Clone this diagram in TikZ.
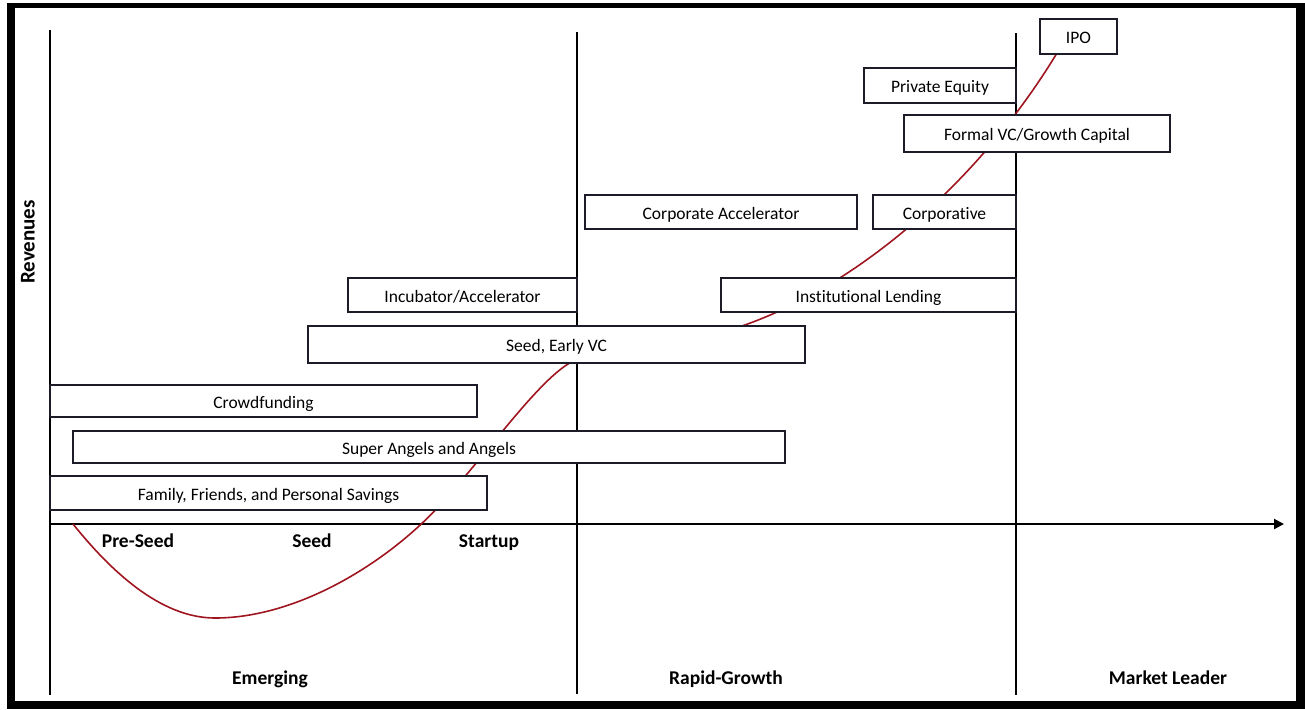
\documentclass[tikz,border=0pt]{standalone}
\usepackage{fontspec}
\setmainfont{Carlito}[Ligatures=NoCommon]
\usepackage{xcolor}
\usepackage{tikz}
\usetikzlibrary{calc, fit, arrows.meta}
\definecolor{curvered}{RGB}{160,22,32}
\definecolor{boxline}{RGB}{28,28,40}
\tikzstyle{fundbox}  = [draw=boxline,line width=0.7pt,fill=white,inner sep=0pt]
\tikzstyle{boxtext}  = [inner sep=0pt,text height=7pt,text depth=0pt,font=\fontsize{8.75}{10}\selectfont]
\tikzstyle{stage}    = [anchor=base,font=\bfseries\fontsize{9.75}{11}\selectfont]
\tikzstyle{divider}  = [line width=1pt]
\tikzstyle{axisline} = [line width=1pt,-{Triangle[length=5pt,width=5pt]}]
\tikzstyle{growth}   = [curvered,line width=0.8pt]

\begin{document}
\begin{tikzpicture}[x=0.5pt,y=-0.5pt]
  \useasboundingbox (0,0) rectangle (1305,709);
  % frame
  \fill[black] (7,3) rectangle (1305,709);
  \fill[white] (15,8) rectangle (1296,701);

  % axes and stage dividers
  \coordinate (origin) at (50,524);
  \coordinate (xend)   at (1284,524);
  \draw[divider] (50,30) -- (50,695);
  \draw[divider] (577,32) -- (577,694);
  \draw[divider] (1016,33) -- (1016,695);
  \draw[axisline] (origin) -- (xend);

  % growth curve
  \draw[growth] (73,524) .. controls (110,570) and (160,618) .. (215,618)
        .. controls (300,618) and (390,560) .. (440,505)
        .. controls (490,450) and (535,385) .. (568,364)
        .. controls (600,345) and (690,343) .. (742,326)
        .. controls (860,285) and (980,180) .. (1057,53);

  % funding sources
  \node[fundbox,fit={(1040,19) (1117,54)},label={[boxtext]center:IPO}]                                   (ipo) {};
  \node[fundbox,fit={(864,68) (1016,103)},label={[boxtext]center:Private Equity}]                        (privequity) {};
  \node[fundbox,fit={(904,115) (1170,152)},label={[boxtext]center:Formal VC/Growth Capital}]             (formalvc) {};
  \node[fundbox,fit={(585,195) (857,229)},label={[boxtext]center:Corporate Accelerator}]                 (corpaccel) {};
  \node[fundbox,fit={(873,195) (1016,229)},label={[boxtext]center:Corporative}]                          (corporative) {};
  \node[fundbox,fit={(348,278) (577,312)},label={[boxtext]center:Incubator/Accelerator}]                 (incubator) {};
  \node[fundbox,fit={(721,278) (1016,312)},label={[boxtext]center:Institutional Lending}]                (lending) {};
  \node[fundbox,fit={(308,326) (805,363)},label={[boxtext]center:Seed, Early VC}]                        (seedvc) {};
  \node[fundbox,fit={(50,385) (477,417)},label={[boxtext]center:Crowdfunding}]                           (crowd) {};
  \node[fundbox,fit={(73,431) (785,463)},label={[boxtext]center:Super Angels and Angels}]                (angels) {};
  \node[fundbox,fit={(50,476) (487,510)},label={[boxtext]center:Family, Friends, and Personal Savings}]  (family) {};

  % stage labels
  \node[stage] (preseed)  at (138,547)  {Pre-Seed};
  \node[stage] (seed)     at (312,547)  {Seed};
  \node[stage] (startup)  at (489,547)  {Startup};
  \node[stage] (emerging) at (270,684)  {Emerging};
  \node[stage] (rapid)    at (726,684)  {Rapid-Growth};
  \node[stage] (leader)   at (1168,684) {Market Leader};
  \node[rotate=90,font=\bfseries\fontsize{10.5}{12}\selectfont] (revenues) at (28,242) {Revenues};
\end{tikzpicture}
\end{document}
